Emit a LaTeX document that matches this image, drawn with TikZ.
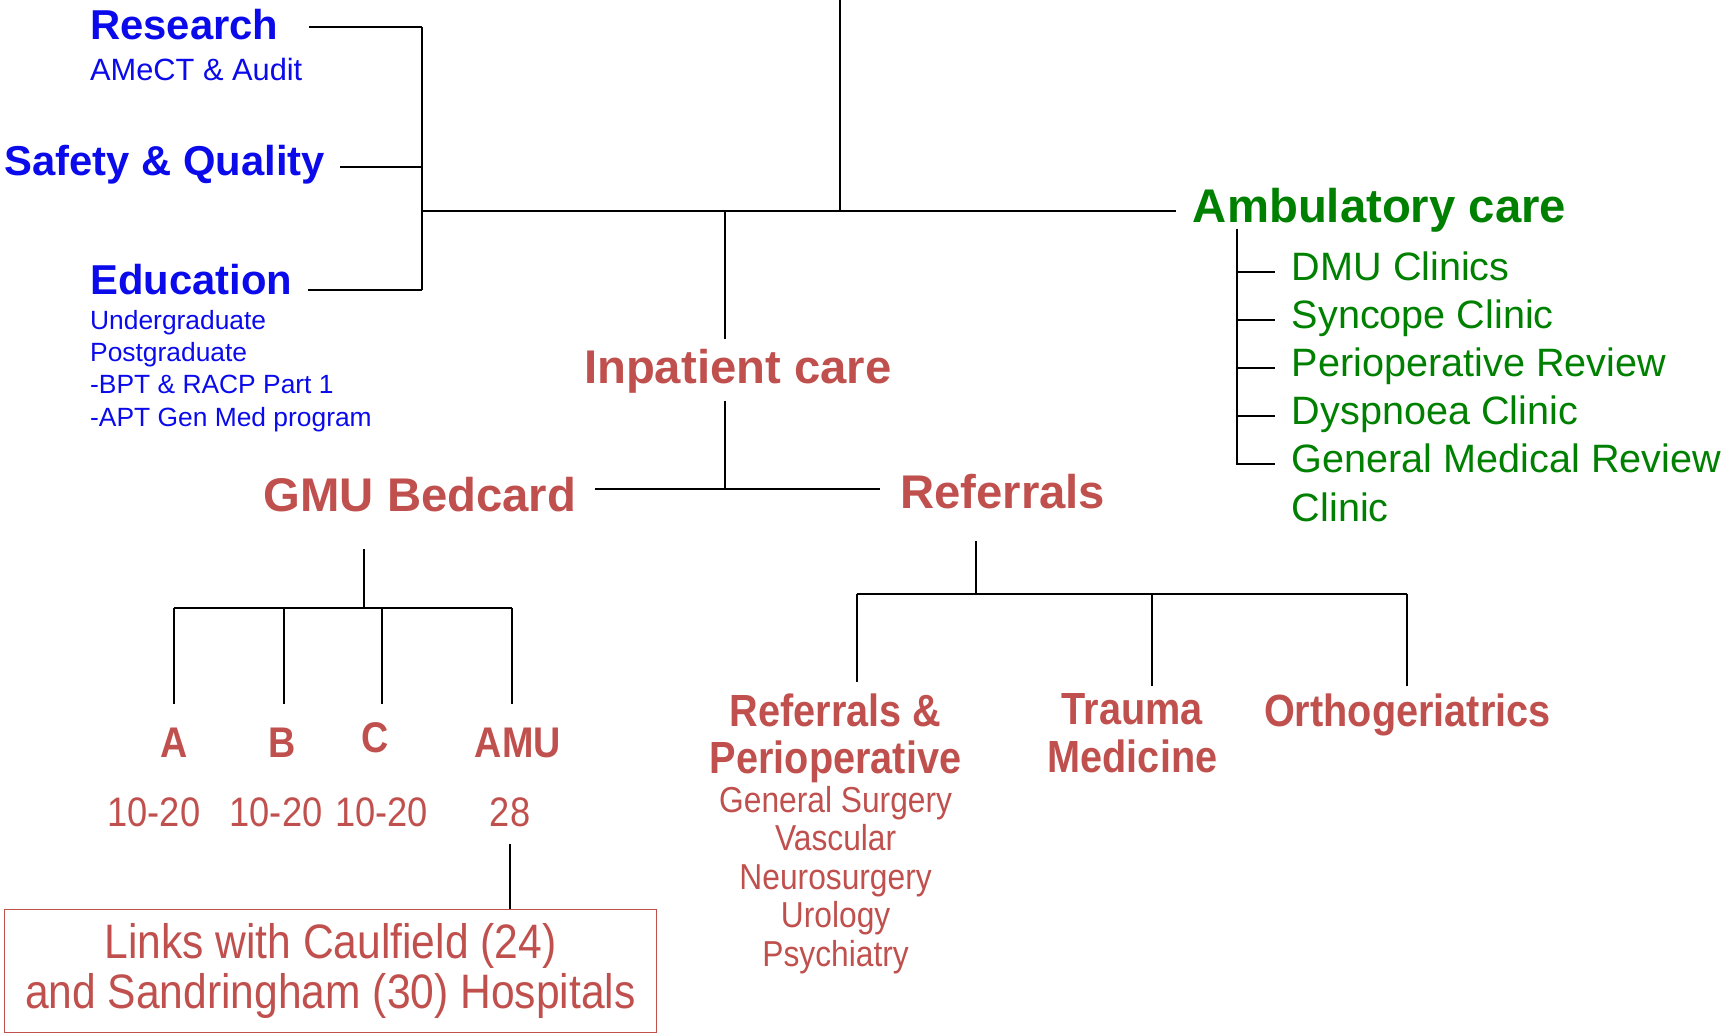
\documentclass[tikz,border=0pt]{standalone}
\usepackage{fontspec}
\setmainfont{Liberation Sans}
\newfontfamily\condfont[FakeStretch=0.88]{Liberation Sans}
\usetikzlibrary{positioning,calc}
\definecolor{deptblue}{RGB}{10,10,235}
\definecolor{deptred}{RGB}{192,80,77}
\definecolor{deptgreen}{RGB}{0,128,0}

\begin{document}
\begin{tikzpicture}[x=0.5pt, y=-0.5pt, inner sep=0pt, outer sep=0pt, line width=0.9pt]

%local definitions
\tikzstyle{BlueHead} = [text height=13.68pt, text depth=0pt, text=deptblue, font=\bfseries\fontsize{19}{21}\selectfont, anchor=west]
\tikzstyle{BlueSub} = [text height=10.08pt, text depth=0pt, text=deptblue, font=\fontsize{14}{16}\selectfont, anchor=west]
\tikzstyle{BlueList} = [text height=8.64pt, text depth=0pt, text=deptblue, font=\fontsize{12}{14}\selectfont, anchor=west]
\tikzstyle{RedHead} = [text height=15.48pt, text depth=0pt, text=deptred, font=\bfseries\fontsize{21.5}{24}\selectfont]
\tikzstyle{GreenHead} = [text height=15.48pt, text depth=0pt, text=deptgreen, font=\bfseries\fontsize{21.5}{24}\selectfont, anchor=west]
\tikzstyle{GreenItem} = [text height=12.96pt, text depth=5.04pt, text=deptgreen, font=\fontsize{18}{20}\selectfont, anchor=west]
\tikzstyle{Ward} = [text height=14.04pt, text depth=0pt, text=deptred, font=\condfont\bfseries\fontsize{19.5}{21}\selectfont]
\tikzstyle{Beds} = [text height=13.5pt, text depth=0pt, text=deptred, font=\condfont\fontsize{18.75}{20}\selectfont]
\tikzstyle{UnitHead} = [text=deptred, align=center, anchor=north, font=\condfont\bfseries\fontsize{20.5}{21.5}\selectfont]
\tikzstyle{UnitList} = [text=deptred, align=center, font=\condfont\fontsize{16.4}{17.5}\selectfont]
\tikzstyle{LinkBox} = [draw=deptred, line width=0.7pt, text=deptred, align=center, minimum width=296.5pt, minimum height=56pt, font=\condfont\fontsize{22}{23}\selectfont]

\useasboundingbox (0,0) rectangle (1568,940);

%support side
	\node [BlueHead] (Research) at (82,22) {Research};
	\node [BlueSub] (Amect) at (82,63) {AMeCT \& Audit};
	\node [BlueHead] (Safety) at (4,146) {Safety \& Quality};
	\node [BlueHead] (Education) at (82,254) {Education};
	\node [BlueList] (Undergrad) at (82,291) {Undergraduate};
	\node [BlueList, below=6pt of Undergrad.south west, anchor=north west] (Postgrad) {Postgraduate};
	\node [BlueList, below=6pt of Postgrad.south west, anchor=north west] (Bpt) {-BPT \& RACP Part 1};
	\node [BlueList, below=6pt of Bpt.south west, anchor=north west] (Apt) {-APT Gen Med program};

%inpatient side
	\node [RedHead] (Inpatient) at (671,333) {Inpatient care};
	\node [RedHead] (GMU) at (382,450) {GMU Bedcard};
	\node [RedHead] (Referrals) at (912,447) {Referrals};

	\node [Ward] (WardA) at (158,675) {A};
	\node [Ward] (WardB) at (257,675) {B};
	\node [Ward] (WardC) at (341,670) {C};
	\node [Ward] (WardAMU) at (471,675) {AMU};
	\node [Beds] (BedsA) at (140,738) {10-20};
	\node [Beds] (BedsB) at (251,738) {10-20};
	\node [Beds] (BedsC) at (347,738) {10-20};
	\node [Beds] (BedsAMU) at (464,738) {28};
	\node [LinkBox] (Links) at (300.5,883) {Links with Caulfield (24)\\and Sandringham (30) Hospitals};

	\node [UnitHead] (RefPeri) at (760,631) {Referrals \&\\Perioperative};
	\node [UnitList, below=1.5pt of RefPeri] (Surgical) {General Surgery\\Vascular\\Neurosurgery\\Urology\\Psychiatry};
	\node [UnitHead] (Trauma) at (1030,631) {Trauma\\Medicine};
	\node [UnitHead] (Ortho) at (1280,631) {Orthogeriatrics};

%ambulatory side
	\node [GreenHead] (Ambulatory) at (1085,187) {Ambulatory care};
	\node [GreenItem] (DMU) at (1175,247) {DMU Clinics};
	\node [GreenItem, below=3.9pt of DMU.south west, anchor=north west] (Syncope) {Syncope Clinic};
	\node [GreenItem, below=3.9pt of Syncope.south west, anchor=north west] (PeriReview) {Perioperative Review};
	\node [GreenItem, below=3.9pt of PeriReview.south west, anchor=north west] (Dyspnoea) {Dyspnoea Clinic};
	\node [GreenItem, below=3.9pt of Dyspnoea.south west, anchor=north west] (GenMed) {General Medical Review};
	\node [GreenItem, below=3.9pt of GenMed.south west, anchor=north west] (GenMedCont) {Clinic};

%junctions
	\coordinate (Top) at (764,0);
	\coordinate (MainJ) at (764,192);
	\coordinate (LeftJ) at (383.5,192);
	\coordinate (ResJ) at (383.5,25);
	\coordinate (SafJ) at (383.5,152);
	\coordinate (EduJ) at (383.5,264);
	\coordinate (InpJ) at (659,192);
	\coordinate (BedJ) at (659,445);
	\coordinate (GmuJ) at (331,553);
	\coordinate (DropA) at (158,553);
	\coordinate (DropB) at (258,553);
	\coordinate (DropC) at (347,553);
	\coordinate (DropAMU) at (466,553);
	\coordinate (RefJ) at (888,540);
	\coordinate (DropRP) at (779,540);
	\coordinate (DropTM) at (1048,540);
	\coordinate (DropOG) at (1280,540);
	\coordinate (AmbSpine) at (1125,208);

%connections
	\draw (Top) -- (MainJ);
	\draw [shorten >=7.5pt] (LeftJ) -- (LeftJ -| Ambulatory.west);
	\draw (ResJ) -- (EduJ);
	\draw [shorten <=14pt] (Research.east |- ResJ) -- (ResJ);
	\draw [shorten <=7pt] (Safety.east |- SafJ) -- (SafJ);
	\draw [shorten <=7pt] (Education.east |- EduJ) -- (EduJ);

	\draw [shorten >=4.75pt] (InpJ) -- (InpJ |- Inpatient.north);
	\draw [shorten <=8pt] (Inpatient.south -| BedJ) -- (BedJ);
	\draw [shorten <=8.5pt, shorten >=9pt] (GMU.east |- BedJ) -- (Referrals.west |- BedJ);

	\draw [shorten <=17pt] (GMU.south -| GmuJ) -- (GmuJ);
	\draw (DropA) -- (DropAMU);
	\draw [shorten >=10.5pt] (DropA) -- (DropA |- WardA.north);
	\draw [shorten >=10.5pt] (DropB) -- (DropB |- WardB.north);
	\draw [shorten >=8pt] (DropC) -- (DropC |- WardC.north);
	\draw [shorten >=10.5pt] (DropAMU) -- (DropAMU |- WardAMU.north);
	\draw [shorten <=8pt] (BedsAMU.south) -- (BedsAMU.south |- Links.north);

	\draw [shorten <=14.75pt] (Referrals.south -| RefJ) -- (RefJ);
	\draw (DropRP) -- (DropOG);
	\draw [shorten >=5.5pt] (DropRP) -- (DropRP |- RefPeri.north);
	\draw [shorten >=3.5pt] (DropTM) -- (DropTM |- Trauma.north);
	\draw [shorten >=3.5pt] (DropOG) -- (DropOG |- Ortho.north);

	\draw [shorten >=7.5pt] (AmbSpine |- DMU.west) -- (DMU.west);
	\draw [shorten >=7.5pt] (AmbSpine |- Syncope.west) -- (Syncope.west);
	\draw [shorten >=7.5pt] (AmbSpine |- PeriReview.west) -- (PeriReview.west);
	\draw [shorten >=7.5pt] (AmbSpine |- Dyspnoea.west) -- (Dyspnoea.west);
	\draw [shorten >=7.5pt] (AmbSpine) |- (GenMed.west);

\end{tikzpicture}
\end{document}
